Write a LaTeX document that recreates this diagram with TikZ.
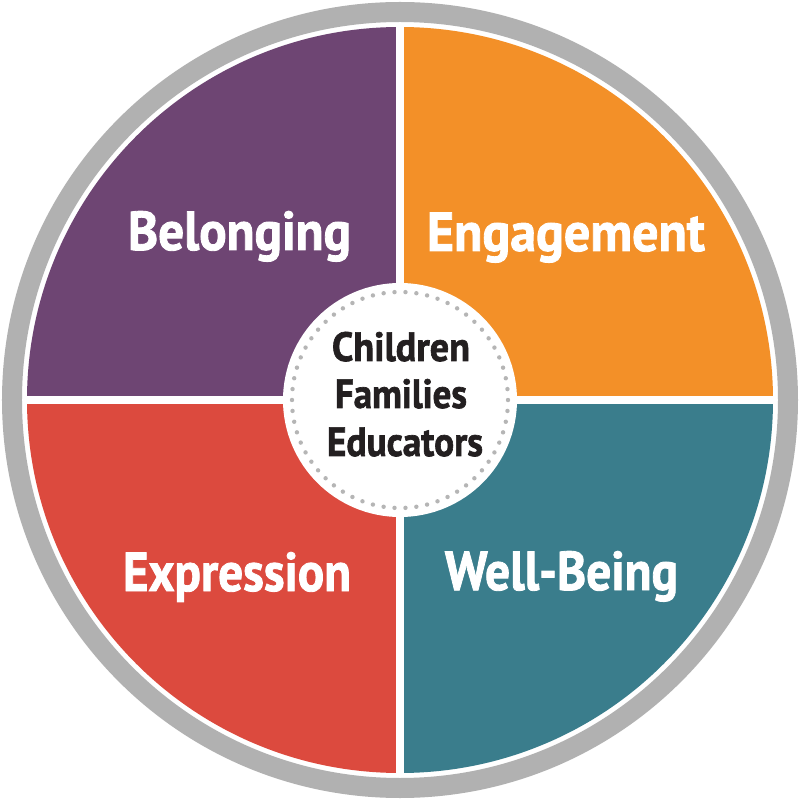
\documentclass[tikz,border=0pt]{standalone}
\usepackage{fontspec}
\usepackage{graphicx}
\setmainfont{PT Sans}
\newfontfamily\heavyfont{PT Sans}[BoldFeatures={FakeBold=1.6}]
\definecolor{ringgray}{HTML}{B1B1B1}
\definecolor{qpurple}{HTML}{6E4573}
\definecolor{qorange}{HTML}{F39028}
\definecolor{qred}{HTML}{DC4A3E}
\definecolor{qteal}{HTML}{3A7D8C}
\definecolor{dotgray}{HTML}{B5B5B5}
\definecolor{inkblack}{HTML}{231F20}
\newcommand{\fitw}[2]{\resizebox{#1}{\height}{#2}}
\tikzset{
  quadlabel/.style={anchor=base, inner sep=0pt, text=white, font=\heavyfont\bfseries\fontsize{55}{60}\selectfont},
  hublabel/.style={anchor=base, inner sep=0pt, text=inkblack, font=\heavyfont\bfseries\fontsize{41}{46}\selectfont},
}
\begin{document}
\begin{tikzpicture}[x=1bp,y=1bp]
\useasboundingbox (-400,-400) rectangle (400,400);
\fill[white] (-400,-400) rectangle (400,400);
% quadrants
\fill[qorange] (0,0) -- (373,0) arc (0:90:373) -- cycle;
\fill[qpurple] (0,0) -- (0,373) arc (90:180:373) -- cycle;
\fill[qred] (0,0) -- (-373,0) arc (180:270:373) -- cycle;
\fill[qteal] (0,0) -- (0,-373) arc (270:360:373) -- cycle;
% white cross gaps
\coordinate (ctop) at (0,376);
\coordinate (cbot) at (0,-376);
\coordinate (cleft) at (-376,0);
\coordinate (cright) at (376,0);
\draw[white, line width=8bp] (ctop) -- (cbot);
\draw[white, line width=7.5bp] (cleft) -- (cright);
% outer gray ring
\draw[ringgray, line width=20bp] (0,0) circle (388);
% hub
\node[circle, fill=white, minimum size=234bp, inner sep=0pt] (hub) at (0,0) {};
\draw[dotgray, line width=4.4bp, line cap=round, dash pattern=on 0bp off 10.945bp] (0,0) circle (108);
\node[hublabel] (children) at (1,39) {\fitw{138bp}{Children}};
\node[hublabel] (families) at (1,-8) {\fitw{132bp}{Families}};
\node[hublabel] (educators) at (5,-56) {\fitw{156bp}{Educators}};
% quadrant labels
\node[quadlabel] (belonging) at (-160.5,150) {\fitw{223bp}{Belonging}};
\node[quadlabel] (engagement) at (166,149) {\fitw{278bp}{Engagement}};
\node[quadlabel] (expression) at (-163,-191) {\fitw{228bp}{Expression}};
\node[quadlabel] (wellbeing) at (161.5,-190) {\fitw{233bp}{Well-Being}};
\end{tikzpicture}
\end{document}
